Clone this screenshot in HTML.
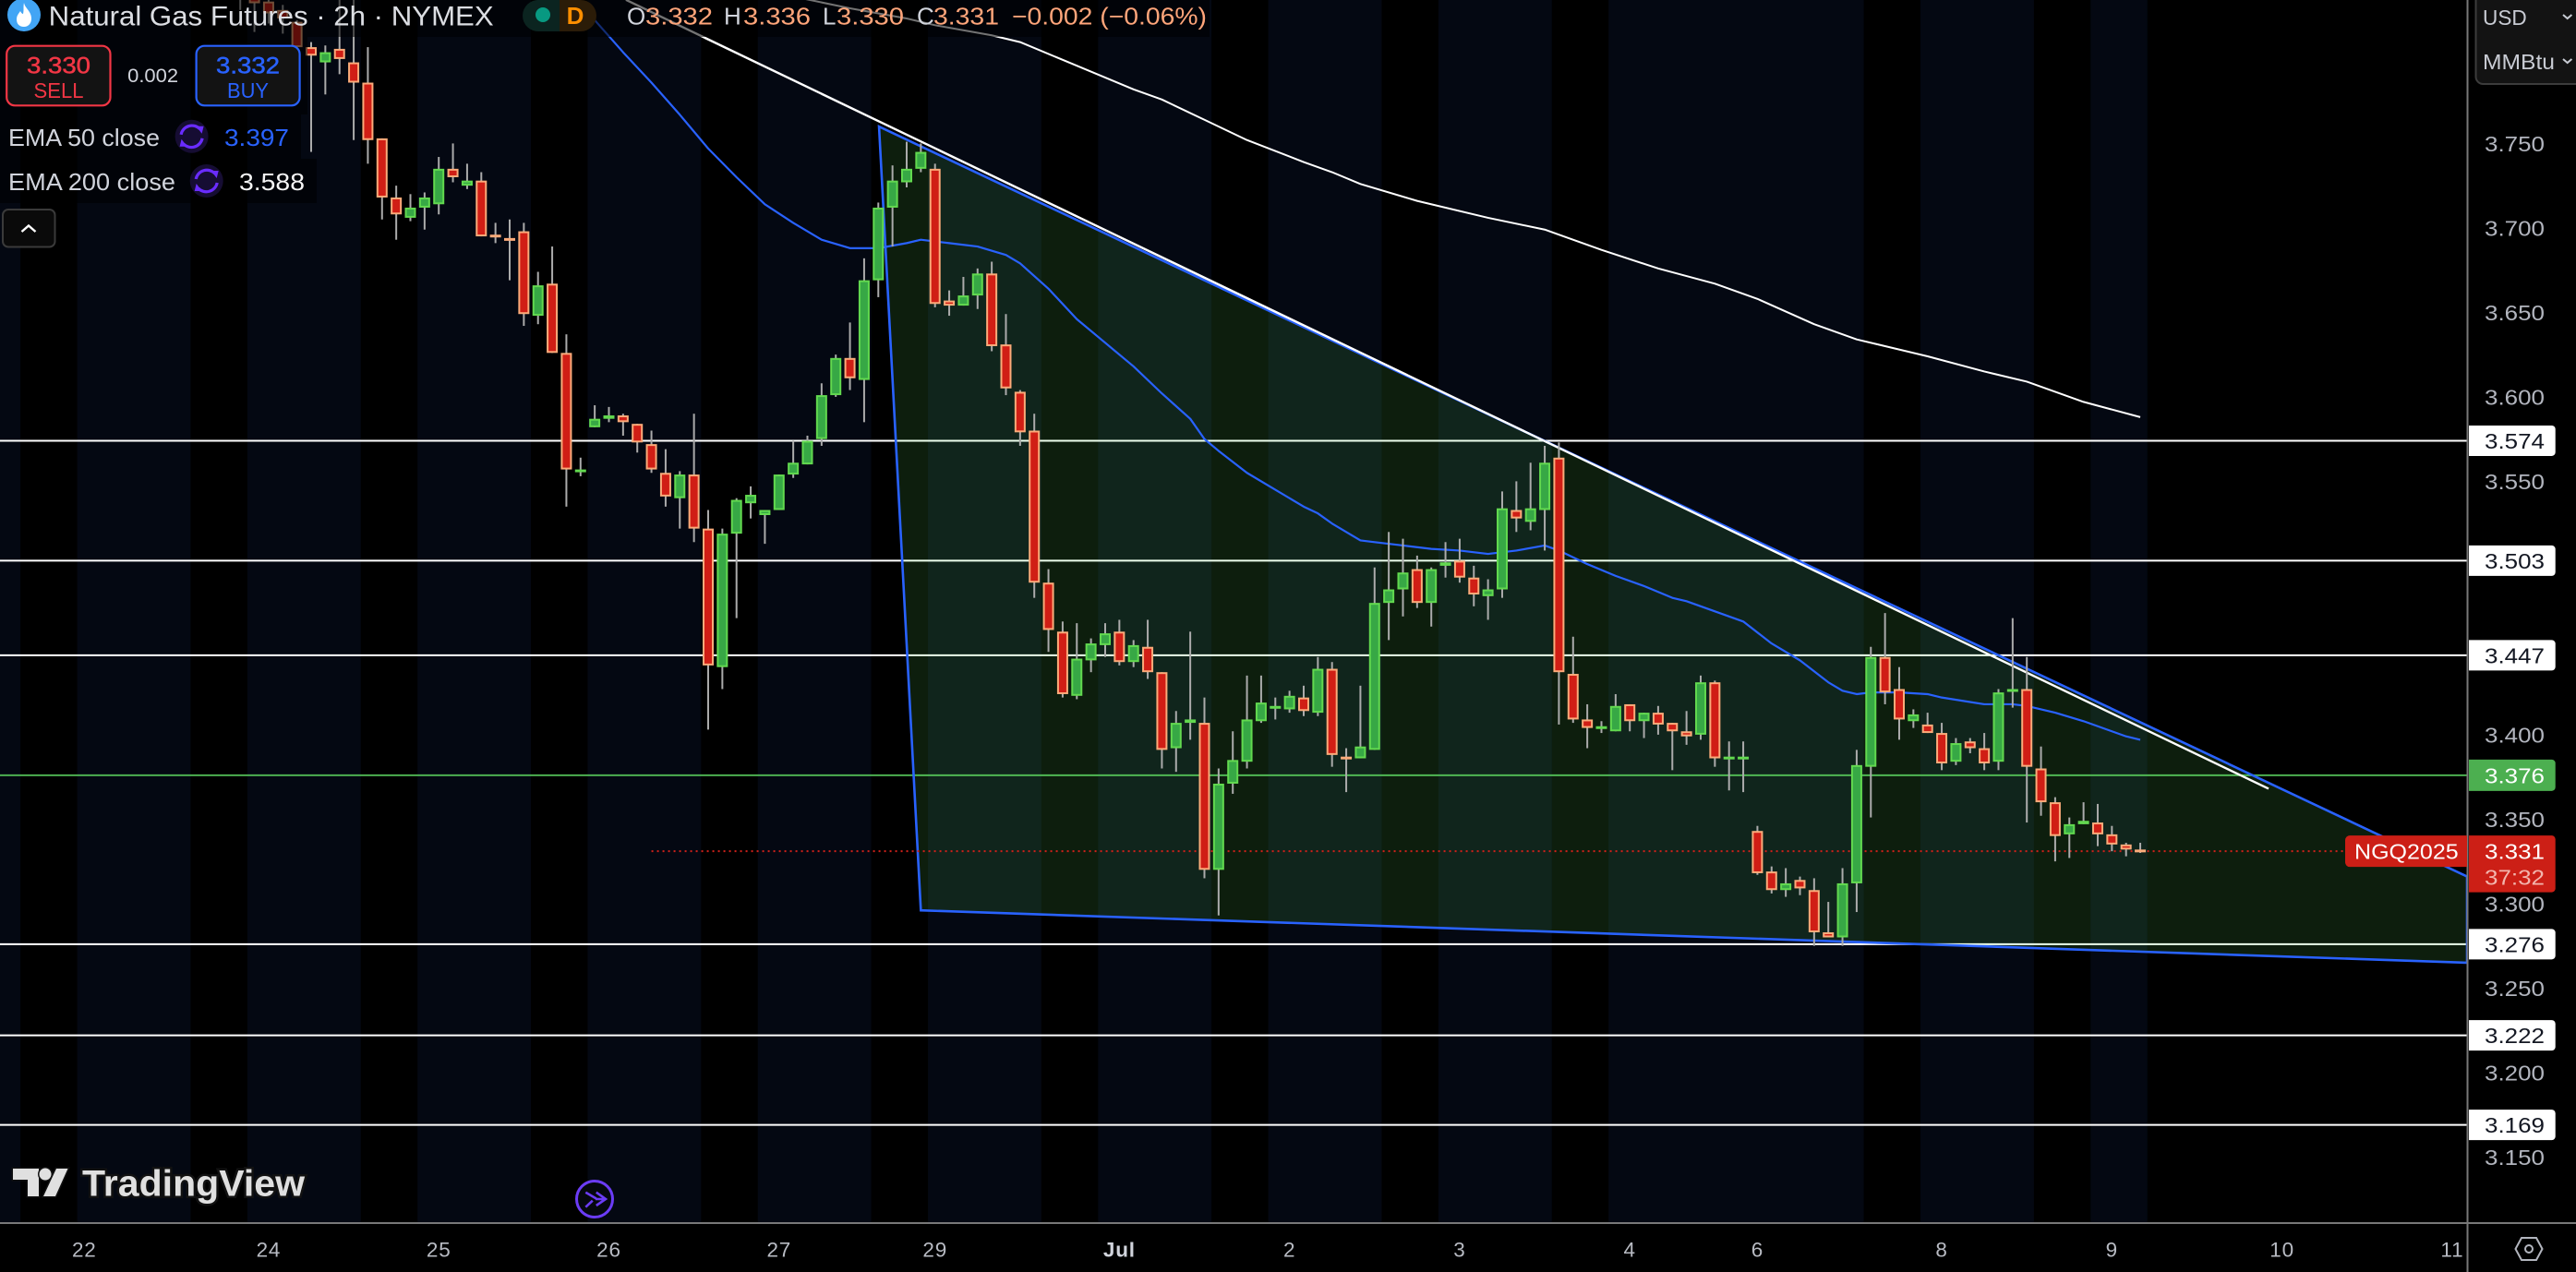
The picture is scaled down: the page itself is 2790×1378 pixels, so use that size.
<!DOCTYPE html>
<html lang="en">
<head>
<meta charset="utf-8">
<title>Natural Gas Futures 2h chart</title>
<style>
html,body{margin:0;padding:0;background:#000;width:2790px;height:1378px;overflow:hidden}
svg{display:block}
text{font-family:"Liberation Sans",sans-serif}
</style>
</head>
<body>
<svg id="chart" xmlns="http://www.w3.org/2000/svg" width="2790" height="1378" viewBox="0 0 2790 1378">
  <defs>
    <clipPath id="plot-clip"><rect x="0" y="0" width="2672" height="1325"/></clipPath>
    <g id="refresh-glyph">
      <path d="M-11.5 -2 A12 12 0 0 1 9 -8" fill="none" stroke="#6a2cff" stroke-width="3.2"/>
      <path d="M5 -11 L13 -11 L11 -3 Z" fill="#6a2cff"/>
      <path d="M11.5 2 A12 12 0 0 1 -9 8" fill="none" stroke="#6a2cff" stroke-width="3.2"/>
      <path d="M-5 11 L-13 11 L-11 3 Z" fill="#6a2cff"/>
    </g>
  </defs>
  <rect x="0" y="0" width="2672" height="1325" fill="#040812"/>
  <g id="plot" clip-path="url(#plot-clip)"></g>
  <g id="header-shade">
    <rect x="0" y="0" width="1310" height="40" fill="#000" fill-opacity="0.55"/>
    <rect x="0" y="40" width="333" height="84" fill="#000" fill-opacity="0.55"/>
    <rect x="0" y="124" width="326" height="48" fill="#000" fill-opacity="0.55"/>
    <rect x="0" y="172" width="343" height="48" fill="#000" fill-opacity="0.55"/>
  </g>

  <g>
    <circle cx="26" cy="16" r="18" fill="#42a5f5"/>
    <path d="M26 3 C27 9 34 12 34 20 C34 26 30 29 26 29 C21 29 18 26 18 21 C18 17 20 15 22 12 C23 14 24 15 25 15 C26 11 25 7 26 3Z" fill="#fff"/>
    <text x="52.7" y="27.7" font-size="30" fill="#dcdee3" textLength="482" lengthAdjust="spacingAndGlyphs">Natural Gas Futures · 2h · NYMEX</text>
    <path d="M606 0 H584 A17 17 0 0 0 566 17 A17 17 0 0 0 584 34 H606 Z" fill="#0b2420"/>
    <path d="M606 0 H629 A17 17 0 0 1 646 17 A17 17 0 0 1 629 34 H606 Z" fill="#2b1c08"/>
    <circle cx="588" cy="16" r="8" fill="#089981"/>
    <text x="623" y="26" font-size="26" font-weight="bold" fill="#ff8f00" text-anchor="middle">D</text>
    <text x="679" y="26.7" font-size="26" fill="#d1d4dc">O</text>
    <text x="699" y="26.7" font-size="26" fill="#ffa57a" textLength="73" lengthAdjust="spacingAndGlyphs">3.332</text>
    <text x="784" y="26.7" font-size="26" fill="#d1d4dc">H</text>
    <text x="805" y="26.7" font-size="26" fill="#ffa57a" textLength="73" lengthAdjust="spacingAndGlyphs">3.336</text>
    <text x="891" y="26.7" font-size="26" fill="#d1d4dc">L</text>
    <text x="906" y="26.7" font-size="26" fill="#ffa57a" textLength="73" lengthAdjust="spacingAndGlyphs">3.330</text>
    <text x="993" y="26.7" font-size="26" fill="#d1d4dc">C</text>
    <text x="1011" y="26.7" font-size="26" fill="#ffa57a" textLength="71" lengthAdjust="spacingAndGlyphs">3.331</text>
    <text x="1096" y="26.7" font-size="26" fill="#ffa57a" textLength="211" lengthAdjust="spacingAndGlyphs">−0.002 (−0.06%)</text>
  </g>

  <g>
    <rect x="7.2" y="49.7" width="112.3" height="64.6" rx="9" fill="#131313" stroke="#f23645" stroke-width="2.2"/>
    <text x="63.5" y="79.5" font-size="25" fill="#f23645" stroke="#f23645" stroke-width="0.5" text-anchor="middle" textLength="69" lengthAdjust="spacingAndGlyphs">3.330</text>
    <text x="63.5" y="106" font-size="23" fill="#f23645" text-anchor="middle" textLength="54" lengthAdjust="spacingAndGlyphs">SELL</text>
  </g>
  <text x="165.6" y="89" font-size="21" fill="#d1d4dc" text-anchor="middle" textLength="55" lengthAdjust="spacingAndGlyphs">0.002</text>
  <g>
    <rect x="212.6" y="49.7" width="112" height="64.6" rx="9" fill="#131313" stroke="#2962ff" stroke-width="2.2"/>
    <text x="268.5" y="79.5" font-size="25" fill="#2962ff" stroke="#2962ff" stroke-width="0.5" text-anchor="middle" textLength="69" lengthAdjust="spacingAndGlyphs">3.332</text>
    <text x="268.5" y="106" font-size="23" fill="#2962ff" text-anchor="middle" textLength="45" lengthAdjust="spacingAndGlyphs">BUY</text>
  </g>

  <g>
    <text x="9" y="158" font-size="26" fill="#d1d4dc" textLength="164" lengthAdjust="spacingAndGlyphs">EMA 50 close</text>
    <circle cx="207.6" cy="147.8" r="18" fill="#160d33"/>
    <use href="#refresh-glyph" x="207.6" y="147.8"/>
    <text x="243" y="158" font-size="26" fill="#2962ff" textLength="70" lengthAdjust="spacingAndGlyphs">3.397</text>
  </g>
  <g>
    <text x="9" y="206" font-size="26" fill="#d1d4dc" textLength="181" lengthAdjust="spacingAndGlyphs">EMA 200 close</text>
    <circle cx="223.7" cy="196" r="18" fill="#160d33"/>
    <use href="#refresh-glyph" x="223.7" y="196"/>
    <text x="259" y="206" font-size="26" fill="#f5f5f5" textLength="71" lengthAdjust="spacingAndGlyphs">3.588</text>
  </g>
  <g>
    <rect x="3" y="227" width="56.5" height="40.5" rx="6" fill="#0a0a0a" stroke="#3a3a3a" stroke-width="2"/>
    <path d="M23.5 251 L31 244.5 L38.5 251" fill="none" stroke="#fff" stroke-width="2.4"/>
  </g>

  <g>
    <path d="M14 1266 H42 V1296 H30 V1278 H14 Z" fill="#e0e0e0" stroke="#111" stroke-width="3" paint-order="stroke"/>
    <circle cx="49" cy="1272" r="6.5" fill="#e0e0e0" stroke="#111" stroke-width="3" paint-order="stroke"/>
    <path d="M61 1266 H73.5 L60 1296 H47 Z" fill="#e0e0e0" stroke="#111" stroke-width="3" paint-order="stroke"/>
    <text x="89" y="1295.7" font-size="40" font-weight="bold" fill="#e0e0e0" stroke="#111" stroke-width="5" paint-order="stroke" textLength="241" lengthAdjust="spacingAndGlyphs">TradingView</text>
  </g>
  <g>
    <circle cx="644" cy="1299" r="19.5" fill="#05080f" stroke="#6b3cf5" stroke-width="3"/>
    <path d="M634.3 1291.7 L645.8 1298.5 M645.8 1291.7 L656 1299 L645.8 1306 M645 1299 H656 M634.3 1307.7 L641.8 1300.7" fill="none" stroke="#6b3cf5" stroke-width="2.6"/>
  </g>

  <g id="axes"></g>

  <line x1="2672.5" y1="0" x2="2672.5" y2="1378" stroke="#787878" stroke-width="2"/>
  <line x1="0" y1="1325" x2="2790" y2="1325" stroke="#787878" stroke-width="2"/>

  <g>
    <path d="M2681.5 -5 V83 A8 8 0 0 0 2689.5 91 H2795 V-5 Z" fill="#131313" stroke="#3c3c3c" stroke-width="2"/>
    <text x="2689" y="26.8" font-size="23" fill="#c8cbd3" textLength="47.7" lengthAdjust="spacingAndGlyphs">USD</text>
    <path d="M2776 16 L2780.7 20 L2785.4 16" fill="none" stroke="#c8cbd3" stroke-width="2"/>
    <text x="2689" y="75" font-size="23" fill="#c8cbd3" textLength="78" lengthAdjust="spacingAndGlyphs">MMBtu</text>
    <path d="M2776 64 L2780.7 68 L2785.4 64" fill="none" stroke="#c8cbd3" stroke-width="2"/>
  </g>

  <g id="price-tags"></g>

  <g>
    <path d="M2724.5 1353 L2731 1341 H2747 L2753.5 1353 L2747 1365 H2731 Z" fill="none" stroke="#b2b5be" stroke-width="2"/>
    <circle cx="2739" cy="1353" r="4" fill="none" stroke="#b2b5be" stroke-width="2"/>
  </g>
</svg>

<script>
const opens = [
3.847,3.843,3.834,3.829,3.822,3.807,3.798,3.806,3.798,3.786,
3.753,3.718,3.706,3.712,3.714,3.735,3.725,3.728,3.696,3.694,
3.698,3.648,3.667,3.626,3.556,3.582,3.587,3.589,3.584,3.572,
3.555,3.540,3.554,3.522,3.440,3.519,3.537,3.530,3.533,3.554,
3.560,3.575,3.601,3.623,3.610,3.669,3.712,3.727,3.735,3.735,
3.657,3.654,3.660,3.673,3.631,3.603,3.580,3.490,3.461,3.423,
3.444,3.453,3.461,3.443,3.452,3.437,3.392,3.407,3.407,3.320,
3.371,3.384,3.408,3.416,3.415,3.422,3.413,3.439,3.387,3.386,
3.391,3.478,3.486,3.498,3.478,3.500,3.503,3.493,3.482,3.486,
3.533,3.526,3.533,3.564,3.436,3.409,3.404,3.402,3.418,3.408,
3.413,3.407,3.402,3.400,3.431,3.386,3.386,3.343,3.319,3.308,
3.314,3.308,3.283,3.280,3.312,3.381,3.446,3.427,3.408,3.406,
3.401,3.384,3.396,3.392,3.384,3.426,3.427,3.380,3.360,3.341,
3.347,3.348,3.341,3.335,3.332];
const highs = [
3.851,3.846,3.838,3.832,3.823,3.810,3.808,3.836,3.836,3.807,
3.753,3.725,3.720,3.721,3.742,3.750,3.738,3.733,3.703,3.705,
3.703,3.674,3.689,3.637,3.564,3.595,3.594,3.590,3.584,3.580,
3.569,3.556,3.590,3.533,3.522,3.540,3.547,3.533,3.554,3.574,
3.577,3.608,3.625,3.644,3.682,3.715,3.737,3.751,3.750,3.738,
3.663,3.671,3.676,3.680,3.649,3.604,3.590,3.498,3.467,3.466,
3.457,3.466,3.468,3.456,3.468,3.437,3.414,3.461,3.422,3.380,
3.402,3.435,3.435,3.422,3.426,3.429,3.446,3.443,3.392,3.429,
3.499,3.520,3.516,3.506,3.499,3.514,3.516,3.500,3.492,3.544,
3.550,3.561,3.571,3.573,3.458,3.418,3.408,3.424,3.418,3.413,
3.417,3.407,3.414,3.435,3.432,3.396,3.396,3.346,3.322,3.321,
3.316,3.315,3.301,3.321,3.391,3.452,3.472,3.440,3.415,3.413,
3.407,3.398,3.398,3.401,3.427,3.469,3.446,3.393,3.363,3.351,
3.360,3.359,3.346,3.336,3.336];
const lows = [
3.829,3.816,3.821,3.815,3.807,3.745,3.779,3.791,3.752,3.738,
3.705,3.693,3.704,3.699,3.708,3.727,3.723,3.695,3.691,3.669,
3.642,3.643,3.626,3.535,3.553,3.582,3.585,3.577,3.567,3.555,
3.535,3.522,3.514,3.403,3.427,3.469,3.528,3.513,3.533,3.552,
3.560,3.571,3.600,3.604,3.585,3.659,3.689,3.724,3.733,3.653,
3.648,3.654,3.652,3.627,3.601,3.571,3.481,3.449,3.422,3.421,
3.437,3.446,3.441,3.440,3.433,3.380,3.378,3.397,3.315,3.293,
3.365,3.380,3.407,3.409,3.413,3.411,3.411,3.381,3.366,3.386,
3.391,3.456,3.470,3.475,3.464,3.493,3.490,3.476,3.468,3.481,
3.520,3.521,3.509,3.406,3.407,3.392,3.401,3.402,3.402,3.398,
3.400,3.379,3.394,3.397,3.381,3.367,3.366,3.317,3.306,3.304,
3.305,3.275,3.280,3.275,3.295,3.351,3.418,3.397,3.404,3.401,
3.379,3.382,3.389,3.379,3.379,3.416,3.348,3.352,3.325,3.327,
3.347,3.334,3.331,3.328,3.330];
const closes = [
3.839,3.833,3.827,3.824,3.807,3.802,3.804,3.800,3.786,3.752,
3.718,3.708,3.712,3.718,3.735,3.730,3.728,3.695,3.695,3.693,
3.649,3.666,3.626,3.557,3.557,3.587,3.589,3.585,3.573,3.557,
3.541,3.554,3.522,3.441,3.519,3.539,3.542,3.533,3.554,3.561,
3.574,3.601,3.623,3.611,3.669,3.712,3.728,3.735,3.745,3.655,
3.654,3.660,3.673,3.630,3.605,3.579,3.490,3.462,3.424,3.445,
3.454,3.460,3.443,3.453,3.437,3.391,3.407,3.409,3.320,3.371,
3.385,3.409,3.419,3.417,3.423,3.414,3.439,3.388,3.386,3.393,
3.478,3.486,3.496,3.478,3.498,3.502,3.493,3.483,3.486,3.534,
3.528,3.534,3.561,3.437,3.409,3.404,3.405,3.417,3.408,3.413,
3.406,3.402,3.399,3.431,3.386,3.387,3.387,3.318,3.308,3.312,
3.309,3.283,3.280,3.312,3.382,3.446,3.425,3.409,3.412,3.401,
3.383,3.395,3.392,3.383,3.425,3.427,3.381,3.360,3.340,3.347,
3.349,3.341,3.335,3.332,3.331];
const firstBar = -5;

const ema50Bars = [18,20,22,24,26,28,30,32,34,36,38,40,42,43,45,47,49,50,52,54,56,58,60,62,63,64,66,68,70,71,72,74,75,77,79,81,83,85,87,88,90,92,94,96,97,98,100,101,103,105,107,108,109,110,112,114,115,118,120,121,123,125,127,128,129];
const ema50Values = [3.842,3.823,3.804,3.786,3.767,3.747,3.730,3.714,3.703,3.693,3.688,3.688,3.691,3.693,3.691,3.689,3.684,3.679,3.664,3.646,3.632,3.618,3.602,3.587,3.575,3.568,3.555,3.545,3.535,3.531,3.525,3.515,3.514,3.512,3.510,3.509,3.507,3.509,3.512,3.509,3.501,3.494,3.488,3.481,3.479,3.476,3.470,3.467,3.454,3.444,3.431,3.426,3.424,3.425,3.425,3.424,3.422,3.418,3.418,3.417,3.413,3.408,3.402,3.399,3.397];
const ema200Bars = [34,38,42,44,48,50,54,58,60,63,66,70,72,74,78,83,87,91,95,99,102,106,109,114,118,121,125,129];
const ema200Values = [3.837,3.830,3.824,3.820,3.814,3.810,3.796,3.782,3.776,3.764,3.752,3.739,3.733,3.726,3.716,3.706,3.699,3.687,3.676,3.667,3.658,3.643,3.634,3.624,3.615,3.609,3.597,3.588];

const wedgeBars = [40.05,43,152.05,152.05];
const wedgePrices = [3.760,3.296,3.265,3.316];
const trendBars = [22.2,138.05];
const trendPrices = [3.835,3.368];

const levelPrices = [3.574,3.503,3.447,3.276,3.222,3.169];
const supportPrice = [3.376];
const lastPrice = [3.331];
const lastPriceStartBar = [24];

const priceTicks = [3.750,3.700,3.650,3.600,3.550,3.400,3.350,3.300,3.250,3.200,3.150];
const dateLabels = ["22","24","25","26","27","29","Jul","2","3","4","6","8","9","10","11"];
const dateBars = [-16,-3,9,21,33,44,57,69,81,93,102,115,127,139,151];

const closedSessionStarts = [-20.5,-8.5,3.5,15.5,27.5,39.5,51.5,63.5,75.5,87.5,109.5,121.5,129.5];
const closedSessionEnds = [-16.5,-4.5,7.5,19.5,31.5,43.5,55.5,67.5,79.5,91.5,113.5,125.5,152.1];

const SVGNS = "http://www.w3.org/2000/svg";
function xScale(bar){ return 337 + 15.357 * bar; }
function yScale(price){ return 155.4 + (3.75 - price) * 1830; }
function make(tag, attrs, parent){
  const el = document.createElementNS(SVGNS, tag);
  for (const k in attrs) el.setAttribute(k, attrs[k]);
  parent.appendChild(el);
  return el;
}
function linePath(bars, values){
  return bars.map(function(b, i){ return (i ? "L" : "M") + xScale(b).toFixed(2) + " " + yScale(values[i]).toFixed(2); }).join(" ");
}

const plot = document.getElementById("plot");
const axes = document.getElementById("axes");
const tags = document.getElementById("price-tags");

/* session bands */
const bandGroup = make("g", {}, plot);


closedSessionStarts.forEach(function(s, i){
  const el = make("rect", {x: xScale(s), y: 0, width: xScale(closedSessionEnds[i]) - xScale(s), height: 1325, fill: "#000"}, bandGroup);
  
  
});

/* horizontal levels */
levelPrices.forEach(function(p){
  const el = make("line", {x1: 0, x2: 2672, y1: yScale(p), y2: yScale(p), stroke: "#fff", "stroke-width": 2}, plot);
  
  
});
supportPrice.forEach(function(p){
  const el = make("line", {x1: 0, x2: 2672, y1: yScale(p), y2: yScale(p), stroke: "#4caf50", "stroke-width": 2}, plot);
  
  
});

/* wedge */
const wedgeFill = make("path", {d: linePath(wedgeBars, wedgePrices) + " Z", fill: "rgb(108,250,108)", "fill-opacity": 0.12}, plot);


const wedgeLine = make("path", {d: linePath(wedgeBars, wedgePrices) + " Z", fill: "none", stroke: "#2962ff", "stroke-width": 2.6, "stroke-linejoin": "miter"}, plot);



/* trend line */
const trend = make("path", {d: linePath(trendBars, trendPrices), fill: "none", stroke: "#fff", "stroke-width": 2.4}, plot);



/* EMA lines */
const ema200 = make("path", {d: linePath(ema200Bars, ema200Values), fill: "none", stroke: "#fff", "stroke-width": 2, "stroke-linejoin": "round"}, plot);


const ema50 = make("path", {d: linePath(ema50Bars, ema50Values), fill: "none", stroke: "#2962ff", "stroke-width": 2.2, "stroke-linejoin": "round"}, plot);



/* last price dotted line */
const priceLine = make("line", {x1: xScale(lastPriceStartBar[0]), x2: 2540, y1: yScale(lastPrice[0]), y2: yScale(lastPrice[0]), stroke: "#d0201a", "stroke-width": 2, "stroke-dasharray": "2 4"}, plot);



/* candles */
const candleGroup = make("g", {}, plot);


opens.forEach(function(o, i){
  const c = closes[i];
  const up = c >= o;
  const cx = xScale(firstBar + i);
  const g = make("g", {}, candleGroup);
  
  
  const wick = make("rect", {x: cx - 1, y: yScale(highs[i]), width: 2, height: Math.max(1, yScale(lows[i]) - yScale(highs[i])), fill: "#ababab"}, g);
  
  
  const top = yScale(Math.max(o, c));
  const h = Math.max(3, yScale(Math.min(o, c)) - top);
  const outer = make("rect", {x: cx - 6, y: top, width: 12, height: h, fill: up ? "#62d94f" : "#fbab7a"}, g);
  
  
  if (h > 3.5) {
    const inner = make("rect", {x: cx - 4, y: top + 2, width: 8, height: h - 4, fill: up ? "#37a845" : "#d01e15"}, g);
    
    
  }
});

/* axis labels */
function fitText(parent, txt, x, y, size, fill, width, extra){
  const t = make("text", Object.assign({x: x, y: y, "font-size": size, fill: fill, textLength: width, lengthAdjust: "spacingAndGlyphs"}, extra || {}), parent);
  t.textContent = txt;
  return t;
}
priceTicks.forEach(function(p){
  const t = fitText(axes, p.toFixed(3), 2691, yScale(p) + 8.5, 23.5, "#b2b5be", 65);
  
  
});
dateLabels.forEach(function(txt, i){
  const isMonth = txt === "Jul";
  const t = make("text", {x: xScale(dateBars[i]), y: 1361.7, "font-size": 22.5, "text-anchor": "middle", fill: isMonth ? "#d1d4dc" : "#b8bbc3", "font-weight": isMonth ? "bold" : "normal", "letter-spacing": 0.8}, axes);
  t.textContent = txt;
  
  
});

/* level tags */
function tagShape(y, h, fill){
  const r = 4, x = 2674, w = 93.7;
  return make("path", {d: "M" + x + " " + y + " H" + (x + w - r) + " A" + r + " " + r + " 0 0 1 " + (x + w) + " " + (y + r) + " V" + (y + h - r) + " A" + r + " " + r + " 0 0 1 " + (x + w - r) + " " + (y + h) + " H" + x + " Z", fill: fill}, tags);
}
levelPrices.forEach(function(p){
  const y = yScale(p);
  const s = tagShape(y - 16.5, 33, "#fff");
  
  
  const t = fitText(tags, p.toFixed(3), 2691, y + 8.5, 23.5, "#131722", 65);
  
  
});
supportPrice.forEach(function(p){
  const y = yScale(p);
  const s = tagShape(y - 17, 34, "#4caf50");
  
  
  const t = fitText(tags, p.toFixed(3), 2691, y + 8.5, 23.5, "#fff", 65);
  
  
});
const lastY = yScale(lastPrice[0]);
const lastTag = tagShape(lastY - 17, 61.4, "#cc1f16");


const lastLabel = fitText(tags, lastPrice[0].toFixed(3), 2691, lastY + 8.5, 23.5, "#fff", 65);


const countdown = fitText(tags, "37:32", 2691, lastY + 36.5, 23.5, "#f3b6ae", 65);


const symbolTag = make("path", {d: "M2672 " + (lastY - 17) + " H2545 A5 5 0 0 0 2540 " + (lastY - 12) + " V" + (lastY + 12) + " A5 5 0 0 0 2545 " + (lastY + 17) + " H2672 Z", fill: "#cc1f16"}, tags);


const symbolLabel = fitText(tags, "NGQ2025", 2550, lastY + 8.5, 23.5, "#fff", 112.7);


</script>
</body>
</html>
